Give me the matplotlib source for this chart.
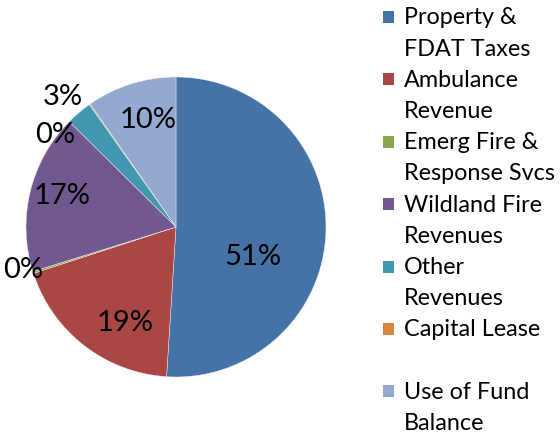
import numpy as np
import matplotlib.pyplot as plt
from matplotlib.patches import Rectangle

# slice data (clockwise from top)
categories = ["Property &\nFDAT Taxes", "Ambulance\nRevenue", "Emerg Fire &\nResponse Svcs",
              "Wildland Fire\nRevenues", "Other\nRevenues", "Capital Lease", "Use of Fund\nBalance"]
shares = [51.0, 19.0, 0.2, 17.2, 2.8, 0.1, 9.7]
colors = ["#4572A7", "#AA4643", "#89A54E", "#71588F", "#4198AF", "#DB843D", "#93A9CF"]

# label placement (layout only): distance in radii, angular nudge in degrees
label_dist = [0.544, 0.707, 1.05, 0.795, 1.17, 1.03, 0.763]
label_nudge = [-17.5, 9.0, -3.0, -3.0, 0.0, 16.5, -3.3]

W, H = 560, 439
fig = plt.figure(figsize=(W / 100, H / 100), dpi=100)
plt.rcParams['font.family'] = ['Lato', 'DejaVu Sans']

cx, cy, R = 176, 228, 150
ax = fig.add_axes([(cx - R) / W, (H - cy - R) / H, 2 * R / W, 2 * R / H])
wedges, _ = ax.pie(shares, colors=colors, startangle=90, counterclock=False,
                   radius=1, wedgeprops=dict(linewidth=0.3, edgecolor='#f4f4f4'))
ax.set_xlim(-1, 1)
ax.set_ylim(-1, 1)
ax.set_aspect('equal')
ax.axis('off')

total = sum(shares)
for w, v, d, nd in zip(wedges, shares, label_dist, label_nudge):
    ang = np.deg2rad((w.theta1 + w.theta2) / 2 + nd)
    ax.text(d * np.cos(ang), d * np.sin(ang), f"{v / total * 100:.0f}%",
            ha='center', va='center_baseline', fontsize=21, color='black', clip_on=False)

# legend drawn by hand: one square + wrapped text per entry
line_h = 31.2
y0 = 18
for i, (lab, c) in enumerate(zip(categories, colors)):
    yc = y0 + i * 2 * line_h
    fig.patches.append(Rectangle((383 / W, 1 - (yc + 6) / H), 11 / W, 12 / H,
                                 transform=fig.transFigure, facecolor=c, edgecolor='none'))
    for j, part in enumerate(lab.split("\n")):
        fig.text(404 / W, 1 - (yc + j * line_h) / H, part, ha='left', va='center',
                 fontsize=16.8, color='black')

fig.savefig("out.png", dpi=100)
